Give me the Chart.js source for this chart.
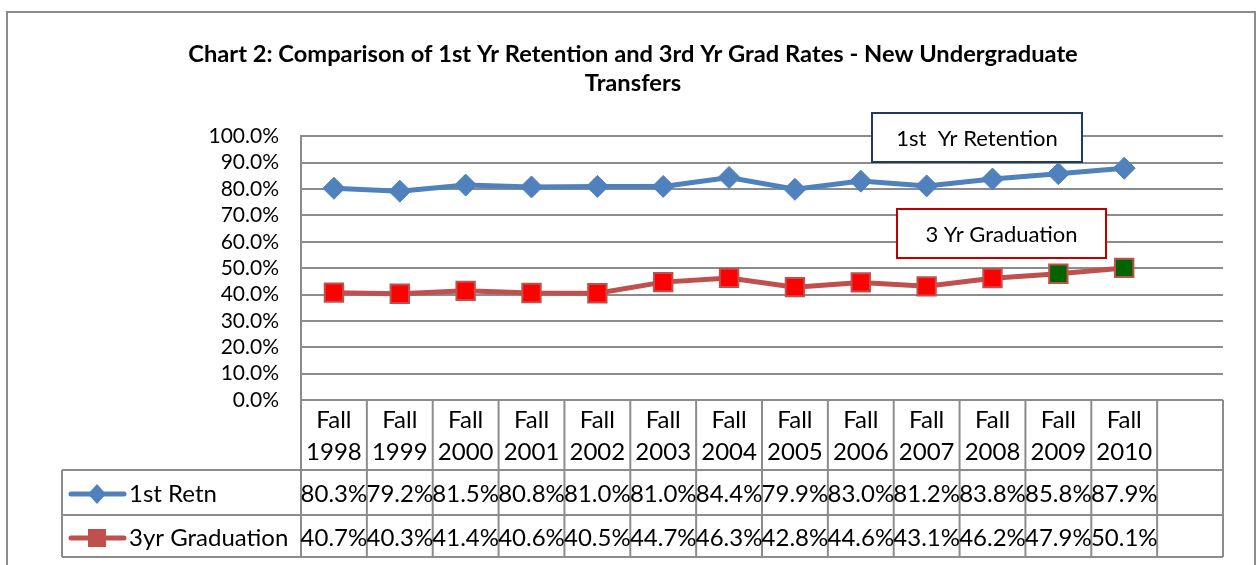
<!DOCTYPE html>
<html>
<head>
<meta charset="utf-8">
<script src="https://cdn.jsdelivr.net/npm/chart.js@4.4.0/dist/chart.umd.min.js"></script>
<style>
  html, body { margin: 0; padding: 0; background: #fff; }
  #wrap { width: 1259px; height: 565px; overflow: hidden; }
</style>
</head>
<body>
<div id="wrap"><canvas id="chart" width="1259" height="565"></canvas></div>
<script>
// data (table below the plot)
const years = ['Fall 1998', 'Fall 1999', 'Fall 2000', 'Fall 2001', 'Fall 2002', 'Fall 2003', 'Fall 2004',
  'Fall 2005', 'Fall 2006', 'Fall 2007', 'Fall 2008', 'Fall 2009', 'Fall 2010', ''];
const retention = [80.3, 79.2, 81.5, 80.8, 81.0, 81.0, 84.4, 79.9, 83.0, 81.2, 83.8, 85.8, 87.9];
const graduation = [40.7, 40.3, 41.4, 40.6, 40.5, 44.7, 46.3, 42.8, 44.6, 43.1, 46.2, 47.9, 50.1];
const seriesNames = ['1st Retn', '3yr Graduation'];
const yTickValues = [0, 10, 20, 30, 40, 50, 60, 70, 80, 90, 100];

const FONT = 'Lato';
const GRID = '#8c8c8c';
const BLUE = '#4F81BD';
const RED_LINE = '#C0504D';

const gradFill = graduation.map((v, i) => i >= 11 ? '#006400' : '#FF0000');

// outer chart frame
const framePlugin = {
  id: 'frame',
  beforeDraw(chart) {
    const ctx = chart.ctx;
    ctx.save();
    ctx.strokeStyle = '#8c8c8c';
    ctx.lineWidth = 2;
    ctx.strokeRect(7, 12, 1248, 600);
    ctx.restore();
  }
};

// the data table under the plot, laid out on the x scale
const tablePlugin = {
  id: 'dataTable',
  afterDraw(chart) {
    const { ctx, chartArea } = chart;
    const x = chart.scales.x;
    const labels = x.getLabels();
    const w = chartArea.width / labels.length;
    const top = chartArea.bottom;
    const hdr = top + 70, r1 = hdr + 45, r2 = r1 + 42;
    const legLeft = 62;

    const line = (x1, y1, x2, y2) => {
      ctx.beginPath(); ctx.moveTo(x1, y1); ctx.lineTo(x2, y2); ctx.stroke();
    };

    ctx.save();
    ctx.strokeStyle = GRID;
    ctx.lineWidth = 2;
    line(chartArea.left, top, chartArea.right, top);
    [hdr, r1, r2].forEach(y => line(legLeft, y, chartArea.right, y));
    for (let i = 0; i <= labels.length; i++) {
      const xx = (i < labels.length ? x.getPixelForValue(i) : x.getPixelForValue(i - 1) + w) - w / 2;
      line(xx, top, xx, r2);
    }
    line(legLeft, hdr, legLeft, r2);

    ctx.fillStyle = '#000';
    ctx.font = '24px ' + FONT;
    ctx.textAlign = 'center';
    ctx.textBaseline = 'middle';
    labels.forEach((lab, i) => {
      if (!lab) return;
      const cx = x.getPixelForValue(i);
      const parts = lab.split(' ');
      ctx.fillText(parts[0], cx, top + 20);
      ctx.fillText(parts[1], cx, top + 52);
    });
    retention.forEach((v, i) => ctx.fillText(v.toFixed(1) + '%', x.getPixelForValue(i), hdr + 24));
    graduation.forEach((v, i) => ctx.fillText(v.toFixed(1) + '%', x.getPixelForValue(i), r1 + 23));

    // legend keys
    ctx.textAlign = 'left';
    ctx.fillText(seriesNames[0], 129, hdr + 24);
    ctx.fillText(seriesNames[1], 129, r1 + 23);

    ctx.lineCap = 'round';
    ctx.lineWidth = 5;
    ctx.strokeStyle = BLUE;
    line(71, hdr + 24, 124, hdr + 24);
    ctx.fillStyle = BLUE;
    ctx.beginPath();
    const dy = hdr + 24, dx = 97;
    ctx.moveTo(dx, dy - 10); ctx.lineTo(dx + 9, dy); ctx.lineTo(dx, dy + 10); ctx.lineTo(dx - 9, dy);
    ctx.closePath(); ctx.fill();

    ctx.strokeStyle = RED_LINE;
    line(71, r1 + 23, 124, r1 + 23);
    ctx.fillStyle = RED_LINE;
    ctx.fillRect(88, r1 + 23 - 9, 18, 18);
    ctx.restore();
  }
};

// the two text boxes sitting in the plot
const calloutPlugin = {
  id: 'callouts',
  afterDatasetsDraw(chart, args, opts) {
    const ctx = chart.ctx;
    ctx.save();
    opts.boxes.forEach(b => {
      ctx.fillStyle = '#fff';
      ctx.fillRect(b.x, b.y, b.w, b.h);
      ctx.strokeStyle = b.color;
      ctx.lineWidth = 2;
      ctx.strokeRect(b.x, b.y, b.w, b.h);
      ctx.fillStyle = '#000';
      ctx.font = '22px ' + FONT;
      ctx.textAlign = 'center';
      ctx.textBaseline = 'middle';
      ctx.fillText(b.text, b.x + b.w / 2, b.y + b.h / 2 + 1);
    });
    ctx.restore();
  }
};

new Chart(document.getElementById('chart'), {
  type: 'line',
  data: {
    labels: years,
    datasets: [
      {
        label: seriesNames[0],
        data: retention,
        borderColor: BLUE,
        borderWidth: 5,
        pointStyle: 'rectRot',
        pointRadius: 11,
        pointBackgroundColor: BLUE,
        pointBorderColor: BLUE,
        pointBorderWidth: 1,
        tension: 0
      },
      {
        label: seriesNames[1],
        data: graduation,
        borderColor: RED_LINE,
        borderWidth: 5,
        pointStyle: 'rect',
        pointRadius: 13,
        pointBackgroundColor: gradFill,
        pointBorderColor: RED_LINE,
        pointBorderWidth: 2,
        tension: 0
      }
    ]
  },
  options: {
    responsive: false,
    animation: false,
    layout: { padding: { left: 43, right: 36, top: 0, bottom: 0 } },
    plugins: {
      legend: { display: false },
      tooltip: { enabled: false },
      title: {
        display: true,
        text: ['Chart 2: Comparison of 1st Yr Retention and 3rd Yr Grad Rates - New Undergraduate', 'Transfers'],
        color: '#000',
        font: { family: FONT, size: 23.7, weight: 'bold', lineHeight: 1.23 },
        padding: { top: 40, bottom: 38 }
      },
      callouts: {
        boxes: [
          { text: '1st  Yr Retention', x: 872, y: 113, w: 210, h: 49, color: '#1F3B63' },
          { text: '3 Yr Graduation', x: 897, y: 209, w: 209, h: 49, color: '#C00000' }
        ]
      }
    },
    scales: {
      x: {
        offset: true,
        grid: { display: false },
        border: { display: false },
        ticks: { display: false },
        afterFit(scale) { scale.height = 165; }
      },
      y: {
        min: 0,
        max: 100,
        afterBuildTicks(scale) { scale.ticks = yTickValues.map(v => ({ value: v })); },
        grid: { color: GRID, lineWidth: 2, drawTicks: false },
        border: { color: GRID, width: 2 },
        ticks: {
          color: '#000',
          padding: 22,
          autoSkip: false,
          font: { family: FONT, size: 21 },
          callback: v => v.toFixed(1) + '%'
        },
        afterFit(scale) { scale.width = 258; }
      }
    }
  },
  plugins: [framePlugin, tablePlugin, calloutPlugin]
});
</script>
</body>
</html>
